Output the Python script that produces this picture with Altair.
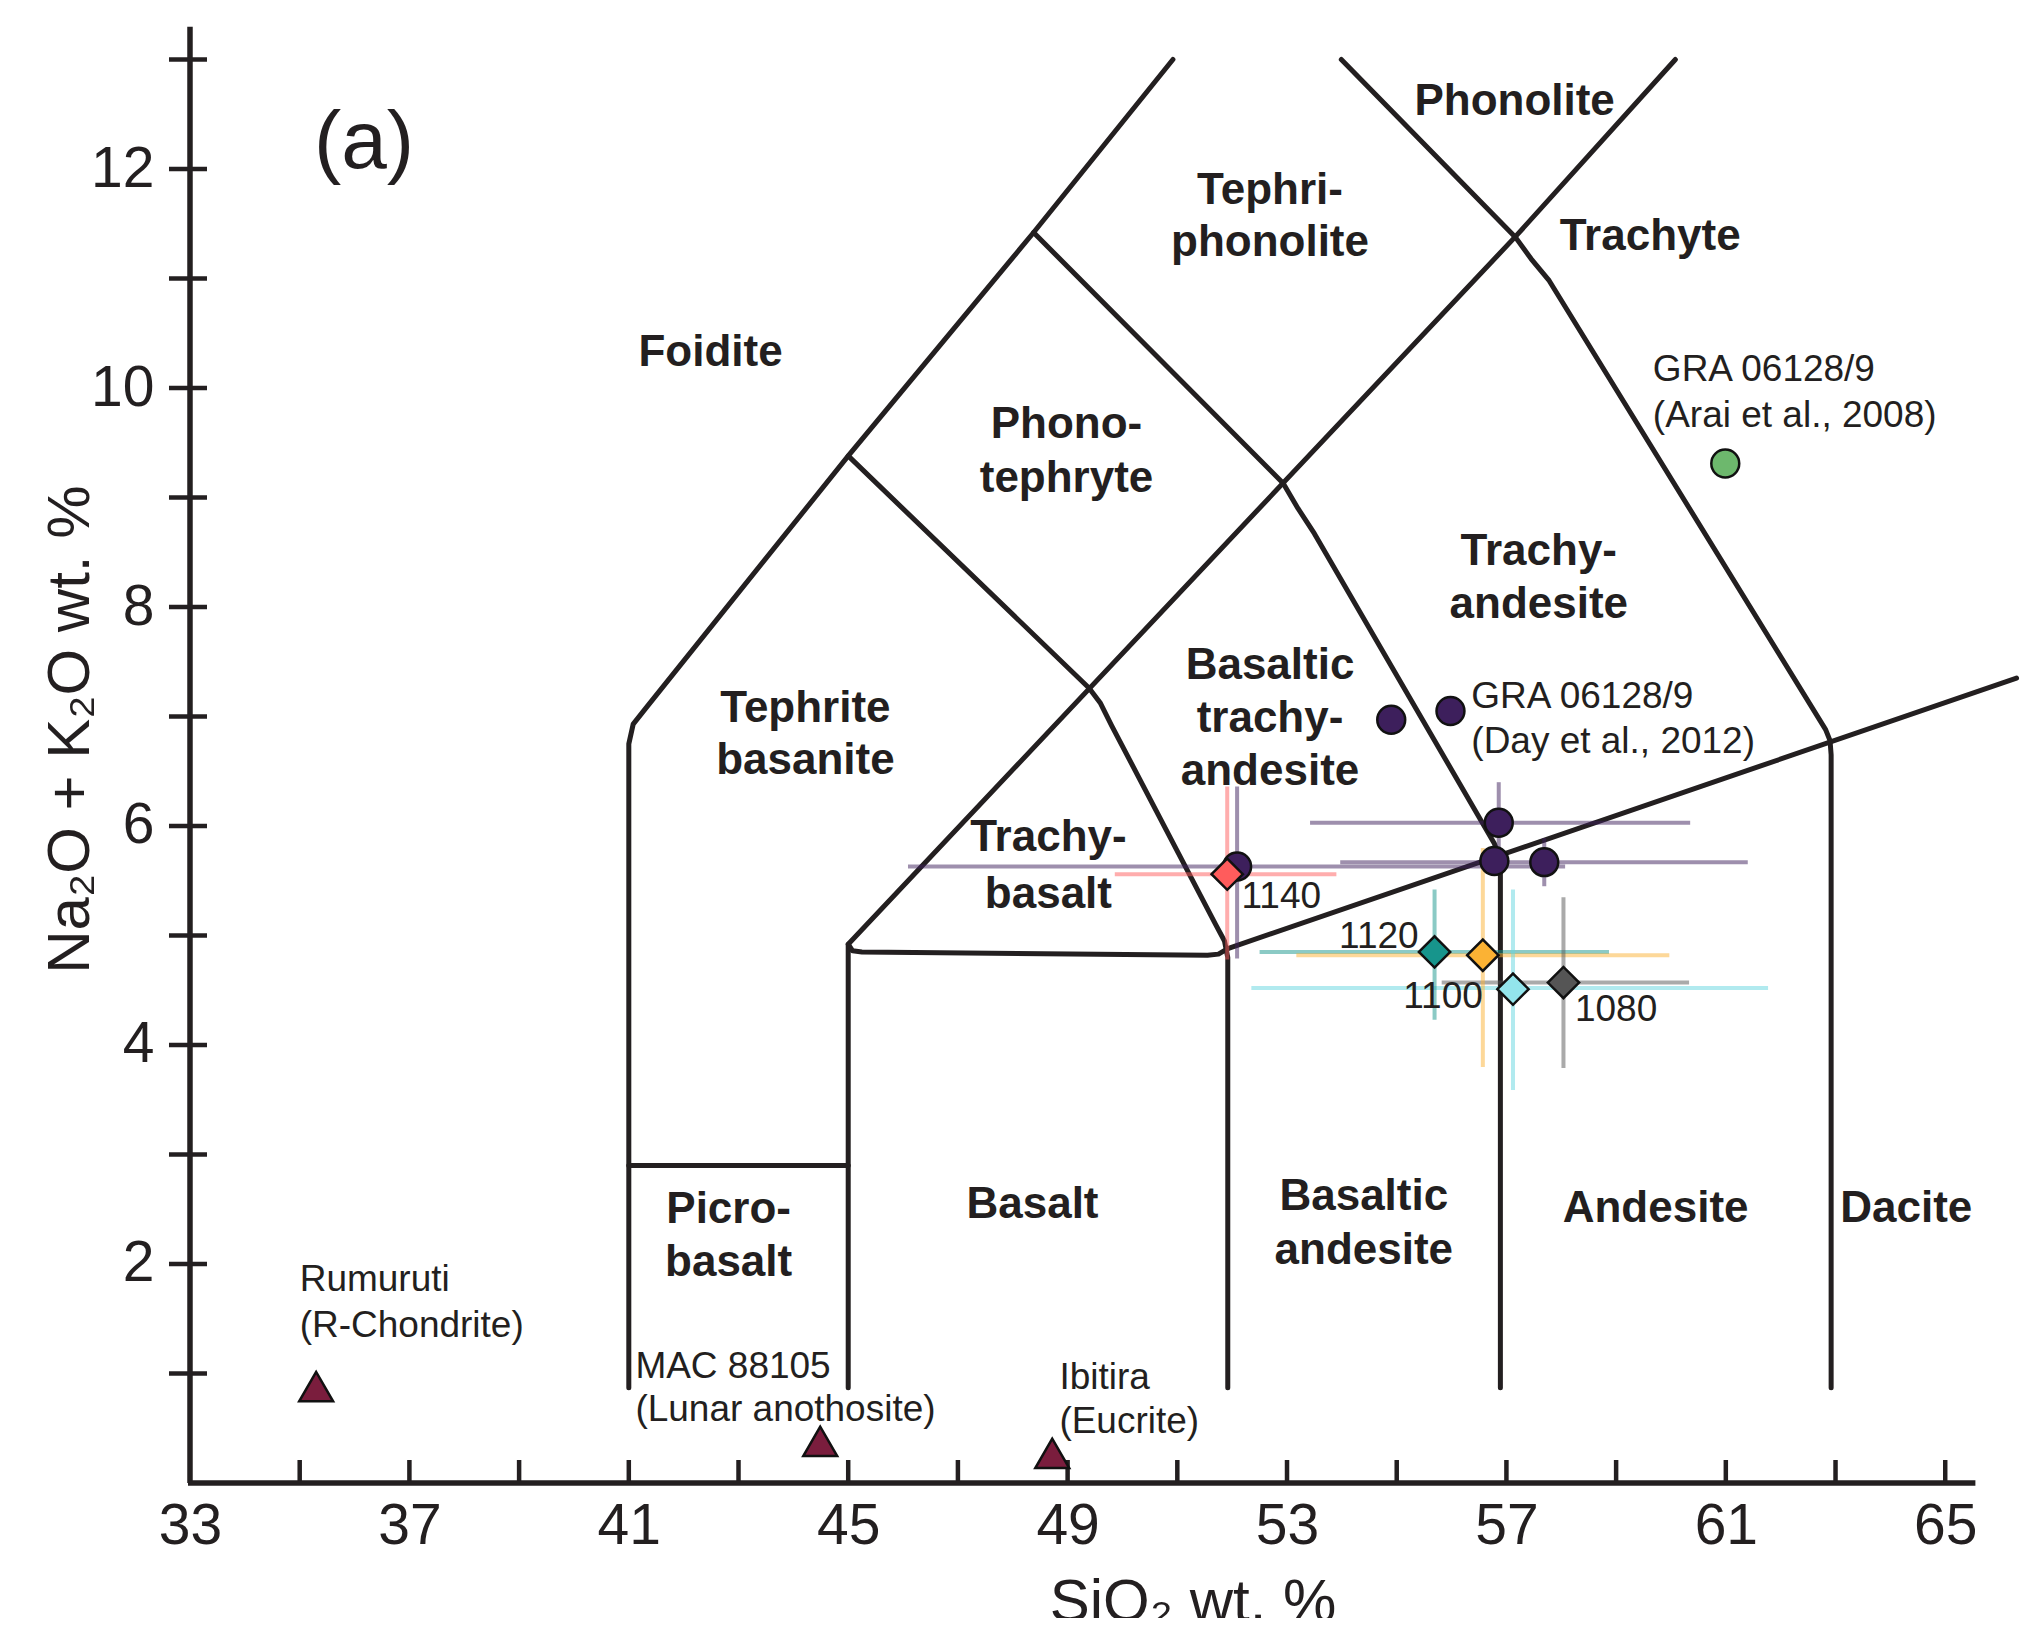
import altair as alt
import pandas as pd

FONT = "Liberation Sans"
INK = "#231f20"

# ---------------- axis ticks / labels ----------------
x_label_values = [33, 37, 41, 45, 49, 53, 57, 61, 65]
x_tick_values = [35, 37, 39, 41, 43, 45, 47, 49, 51, 53, 55, 57, 59, 61, 63, 65]
y_label_values = [2, 4, 6, 8, 10, 12]
y_tick_values = [1, 2, 3, 4, 5, 6, 7, 8, 9, 10, 11, 12, 13]

# ---------------- TAS field boundaries (SiO2, Na2O+K2O) ----------------
line_a_x = [41.0, 41.0, 41.08, 41.3, 45.0, 48.38, 50.92]
line_a_y = [0.87, 6.75, 6.93, 7.07, 9.38, 11.42, 13.0]
line_b_x = [41.0, 45.0]
line_b_y = [2.90, 2.90]
line_c_x = [45.0, 45.0, 57.16, 60.08]
line_c_y = [0.87, 4.92, 11.38, 13.0]
line_d_x = [45.0, 49.39, 49.60, 49.80, 51.70, 51.86, 51.92, 51.92]
line_d_y = [9.38, 7.26, 7.12, 6.92, 5.10, 4.95, 4.80, 0.87]
line_e_x = [48.38, 52.93, 53.20, 53.50, 56.78, 56.87, 56.89, 56.89]
line_e_y = [11.42, 9.13, 8.90, 8.67, 5.84, 5.72, 5.60, 0.87]
line_f_x = [53.99, 57.16, 57.45, 57.78, 62.82, 62.90, 62.92, 62.92]
line_f_y = [13.0, 11.38, 11.18, 10.98, 6.88, 6.78, 6.65, 0.87]
line_g_x = [45.0, 45.08, 45.25, 51.55, 51.75, 51.92]
line_g_y = [4.92, 4.86, 4.85, 4.82, 4.83, 4.88]
line_h_x = [51.92, 66.30]
line_h_y = [4.88, 7.35]

boundaries = {
    "a": (line_a_x, line_a_y), "b": (line_b_x, line_b_y), "c": (line_c_x, line_c_y),
    "d": (line_d_x, line_d_y), "e": (line_e_x, line_e_y), "f": (line_f_x, line_f_y),
    "g": (line_g_x, line_g_y), "h": (line_h_x, line_h_y),
}

# ---------------- field names ----------------
field_names = ["Phonolite", "Tephri-", "phonolite", "Trachyte", "Foidite", "Phono-", "tephryte",
               "Trachy-", "andesite", "Basaltic", "trachy-", "andesite", "Tephrite", "basanite",
               "Trachy-", "basalt", "Picro-", "basalt", "Basalt", "Basaltic", "andesite",
               "Andesite", "Dacite"]
field_x = [57.15, 52.69, 52.69, 59.62, 42.49, 48.98, 48.98, 57.59, 57.59, 52.69, 52.69, 52.69,
           44.22, 44.22, 48.65, 48.65, 42.82, 42.82, 48.36, 54.40, 54.40, 59.72, 64.29]
field_y = [12.61, 11.80, 11.32, 11.38, 10.32, 9.66, 9.17, 8.50, 8.02, 7.46, 6.98, 6.49,
           7.07, 6.59, 5.89, 5.37, 2.49, 2.01, 2.54, 2.61, 2.12, 2.50, 2.50]

# ---------------- sample annotations ----------------
note_text = ["Rumuruti", "(R-Chondrite)", "MAC 88105", "(Lunar anothosite)", "Ibitira", "(Eucrite)",
             "GRA 06128/9", "(Arai et al., 2008)", "GRA 06128/9", "(Day et al., 2012)",
             "1140", "1120", "1100", "1080"]
note_x = [35.0, 35.0, 41.12, 41.12, 48.85, 48.85, 59.67, 59.67, 56.36, 56.36,
          52.17, 53.95, 55.12, 58.25]
note_y = [1.85, 1.43, 1.06, 0.67, 0.96, 0.56, 10.16, 9.74, 7.18, 6.77,
          5.35, 4.99, 4.44, 4.32]

# ---------------- data points ----------------
day_x = [54.90, 55.98, 56.86, 56.78, 57.69, 52.09]
day_y = [6.97, 7.05, 6.03, 5.68, 5.67, 5.63]
arai_x = [60.99]
arai_y = [9.31]
tri_x = [35.30, 44.49, 48.72]
tri_y = [0.88, 0.38, 0.27]

exp_labels = ["1140", "1120", "1110", "1100", "1080"]
exp_x = [51.91, 55.69, 56.57, 57.12, 58.04]
exp_y = [5.56, 4.85, 4.82, 4.51, 4.57]
exp_colors = ["#ff5c5c", "#17958c", "#fbb234", "#93e5ec", "#555555"]

# error bars
bar_x = [56.86, 57.69, 52.09, 51.91, 55.69, 56.57, 57.12, 58.04]
bar_y = [6.03, 5.67, 5.63, 5.56, 4.85, 4.82, 4.52, 4.57]
bar_xmin = [53.42, 53.97, 46.09, 49.86, 52.50, 53.17, 52.35, 55.82]
bar_xmax = [60.35, 61.40, 58.07, 53.90, 58.87, 59.97, 61.77, 60.33]
bar_ymin = [5.66, 5.45, 4.79, 4.78, 4.23, 3.80, 3.59, 3.79]
bar_ymax = [6.40, 5.89, 6.36, 6.36, 5.42, 5.80, 5.42, 5.35]
bar_colors = ["#3d1f5c", "#3d1f5c", "#3d1f5c", "#ff5c5c", "#17958c", "#fbb234", "#63d6e0", "#555555"]

# ---------------- geometry of the page ----------------
W = 1785.4
H = 1456.35

xs = alt.Scale(domain=[33, 65.55], nice=False, zero=False)
ys = alt.Scale(domain=[0, 13.3], nice=False, zero=False)
xaxis = alt.Axis(values=x_label_values, title=None, domain=False, ticks=False, grid=False, tickSize=0,
                 labelFont=FONT, labelFontSize=57, labelColor=INK, labelPadding=16,
                 labelFlush=False, labelOverlap=False)
yaxis = alt.Axis(values=y_label_values, title=None, domain=False, ticks=False, grid=False, tickSize=0,
                 labelFont=FONT, labelFontSize=57, labelColor=INK, labelPadding=36,
                 labelOverlap=False)


def X(f):
    return alt.X(f, type="quantitative", scale=xs, axis=xaxis)


def Y(f):
    return alt.Y(f, type="quantitative", scale=ys, axis=yaxis)


rows = []
for name, (lx, ly) in boundaries.items():
    for i, (a, b) in enumerate(zip(lx, ly)):
        rows.append({"line": name, "i": i, "x": a, "y": b})
lines_df = pd.DataFrame(rows)

fields_df = pd.DataFrame({"t": field_names, "x": field_x, "y": field_y})
notes_df = pd.DataFrame({"t": note_text, "x": note_x, "y": note_y})
day_df = pd.DataFrame({"x": day_x, "y": day_y})
arai_df = pd.DataFrame({"x": arai_x, "y": arai_y})
tri_df = pd.DataFrame({"x": tri_x, "y": tri_y})
exp_df = pd.DataFrame({"k": exp_labels, "x": exp_x, "y": exp_y, "c": exp_colors})
bars_df = pd.DataFrame({"x": bar_x, "y": bar_y, "xmin": bar_xmin, "xmax": bar_xmax,
                        "ymin": bar_ymin, "ymax": bar_ymax, "c": bar_colors})
xt_df = pd.DataFrame({"v": x_tick_values})
yt_df = pd.DataFrame({"v": y_tick_values})
one = pd.DataFrame({"d": [0]})

# axes drawn as rules
y_axis_line = alt.Chart(one).mark_rule(color=INK, strokeWidth=5.5).encode(
    x=alt.value(0), y=alt.value(0), y2=alt.value(H))
x_axis_line = alt.Chart(one).mark_rule(color=INK, strokeWidth=5.5).encode(
    x=alt.value(-2), x2=alt.value(W), y=alt.value(H))
x_ticks = alt.Chart(xt_df).mark_rule(color=INK, strokeWidth=4.5).encode(
    x=X("v"), y=alt.value(H), y2=alt.value(H - 23))
y_ticks = alt.Chart(yt_df).mark_rule(color=INK, strokeWidth=4.5).encode(
    y=Y("v"), x=alt.value(-21), x2=alt.value(17))

boundary = alt.Chart(lines_df).mark_line(color=INK, strokeWidth=5, strokeJoin="round",
                                         strokeCap="round").encode(
    x=X("x"), y=Y("y"), detail="line:N", order=alt.Order("i:Q"))

hbars = alt.Chart(bars_df).mark_rule(strokeWidth=4, opacity=0.5).encode(
    x=X("xmin"), x2="xmax", y=Y("y"), color=alt.Color("c:N", scale=None))
vbars = alt.Chart(bars_df).mark_rule(strokeWidth=4, opacity=0.5).encode(
    x=X("x"), y=Y("ymin"), y2="ymax", color=alt.Color("c:N", scale=None))

day_pts = alt.Chart(day_df).mark_point(shape="circle", filled=True, size=780, fill="#3d1f5c",
                                       stroke="#111111", strokeWidth=2.5, opacity=1).encode(
    x=X("x"), y=Y("y"))
arai_pts = alt.Chart(arai_df).mark_point(shape="circle", filled=True, size=780, fill="#6db86d",
                                         stroke="#111111", strokeWidth=2.5, opacity=1).encode(
    x=X("x"), y=Y("y"))
tri_pts = alt.Chart(tri_df).mark_point(shape="triangle-up", filled=True, size=1150, fill="#7a1d3d",
                                       stroke="#111111", strokeWidth=2.5, opacity=1).encode(
    x=X("x"), y=Y("y"))
exp_pts = alt.Chart(exp_df).mark_point(shape="diamond", filled=True, size=980,
                                       stroke="#111111", strokeWidth=2.5, opacity=1).encode(
    x=X("x"), y=Y("y"), fill=alt.Fill("c:N", scale=None))

field_txt = alt.Chart(fields_df).mark_text(font=FONT, fontSize=44, fontWeight="bold", color=INK,
                                           align="center", baseline="middle").encode(
    x=X("x"), y=Y("y"), text="t:N")
note_txt = alt.Chart(notes_df).mark_text(font=FONT, fontSize=37, color=INK,
                                         align="left", baseline="middle").encode(
    x=X("x"), y=Y("y"), text="t:N")

panel = alt.Chart(one).mark_text(font=FONT, fontSize=82, color=INK, align="center",
                                 baseline="middle").encode(
    x=alt.value(174), y=alt.value(116), text=alt.value("(a)"))
x_title = alt.Chart(one).mark_text(font=FONT, fontSize=60, color=INK, align="center",
                                   baseline="alphabetic").encode(
    x=alt.value(1003), y=alt.value(1594), text=alt.value("SiO₂ wt. %"))
y_title = alt.Chart(one).mark_text(font=FONT, fontSize=60, color=INK, align="center",
                                   baseline="middle", angle=270).encode(
    x=alt.value(-119), y=alt.value(703), text=alt.value("Na₂O + K₂O wt. %"))

chart = alt.layer(
    boundary, hbars, vbars, x_ticks, y_ticks, y_axis_line, x_axis_line,
    tri_pts, arai_pts, day_pts, exp_pts,
    field_txt, note_txt, panel, x_title, y_title,
).properties(
    width=W, height=H,
    autosize=alt.AutoSizeParams(type="none"),
    padding={"left": 182, "top": 18.65, "right": 50, "bottom": 135},
    background="white",
).configure_view(stroke=None)

chart.save("out.html", embed_options={"renderer": "svg", "actions": False})
